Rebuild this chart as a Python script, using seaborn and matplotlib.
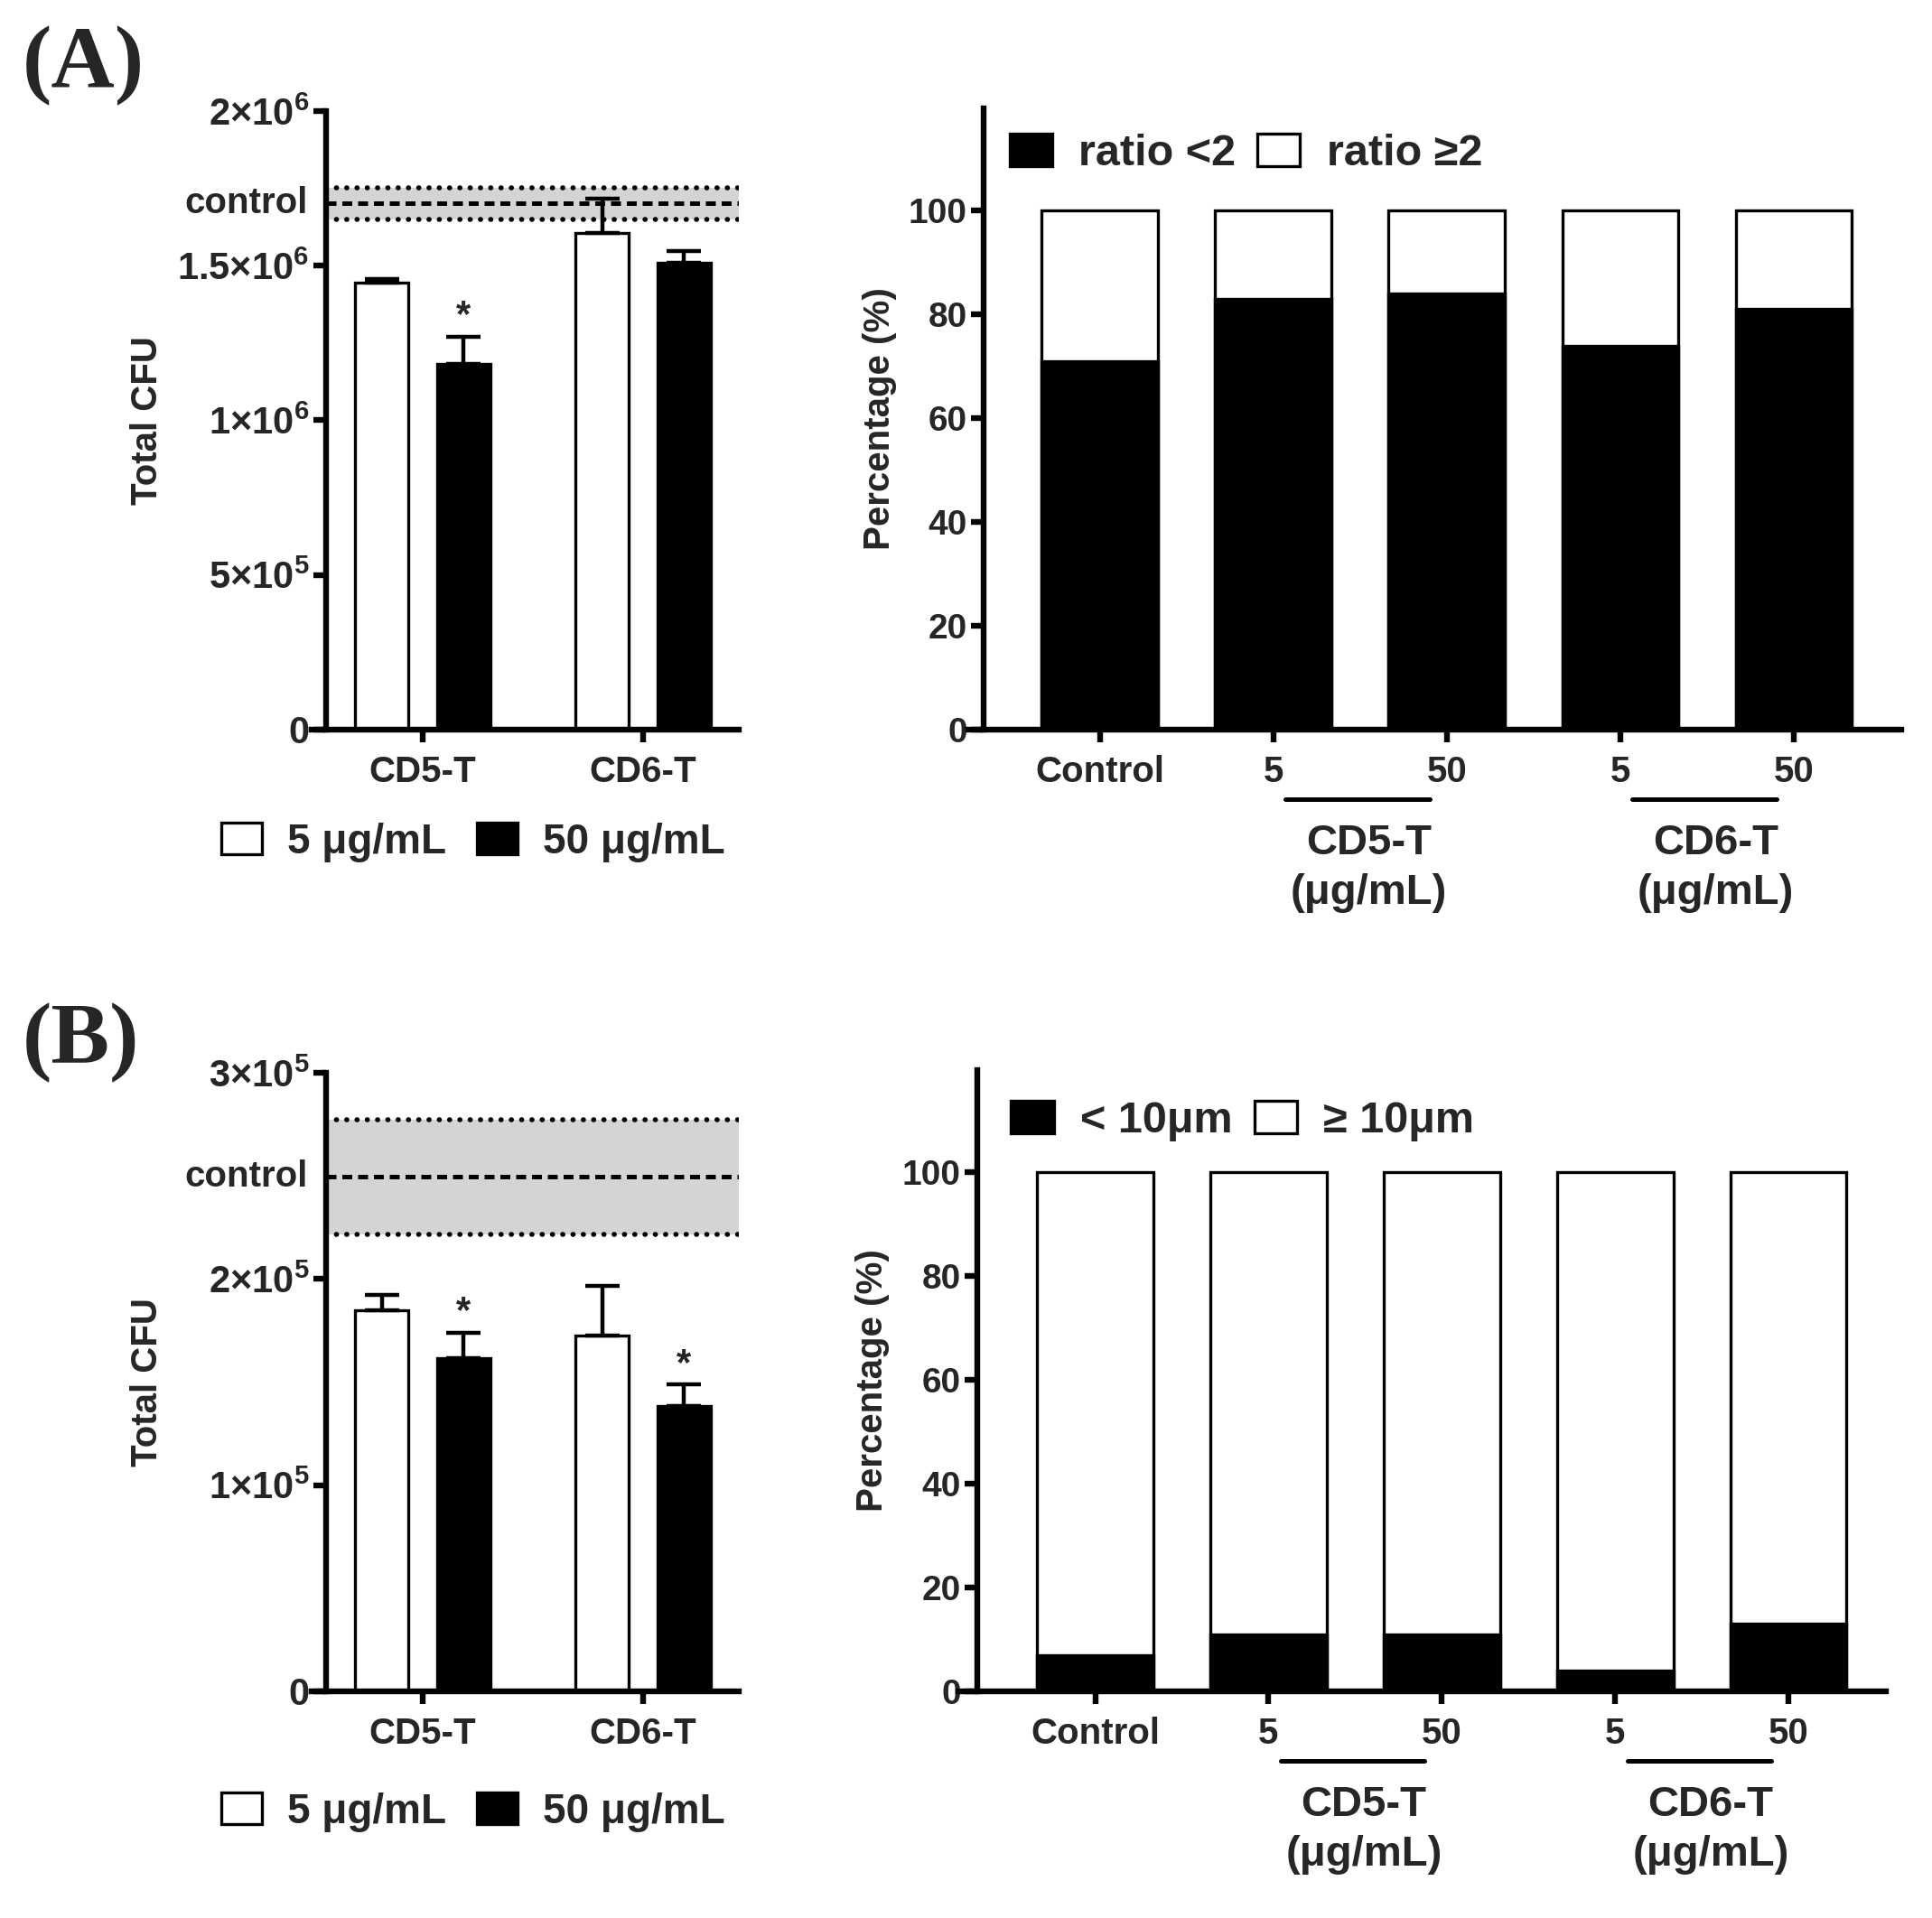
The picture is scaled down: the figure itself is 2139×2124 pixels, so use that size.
import matplotlib.pyplot as plt
import pandas as pd
import seaborn as sns
from matplotlib.patches import Patch

# ======== values ===========================================
groups = ["CD5-T", "CD6-T"]
doses = ["5 μg/mL", "50 μg/mL"]

# (A) total CFU: mean, upper error, significance
cfu_a_5 = [1.444e6, 1.607e6]
cfu_a_50 = [1.181e6, 1.508e6]
err_a_5 = [0.014e6, 0.111e6]
err_a_50 = [0.089e6, 0.038e6]
star_a_5 = [False, False]
star_a_50 = [True, False]
control_a = 1.701e6
control_a_sd = 0.052e6
yticks_a = [0, 5e5, 1e6, 1.5e6, 2e6]
yticklabels_a = ["0", r"$5{\times}10^{5}$", r"$1{\times}10^{6}$",
                 r"$1.5{\times}10^{6}$", r"$2{\times}10^{6}$"]

# (B) total CFU
cfu_b_5 = [1.848e5, 1.725e5]
cfu_b_50 = [1.618e5, 1.385e5]
err_b_5 = [0.074e5, 0.242e5]
err_b_50 = [0.119e5, 0.102e5]
star_b_5 = [False, False]
star_b_50 = [True, True]
control_b = 2.496e5
control_b_sd = 0.278e5
yticks_b = [0, 1e5, 2e5, 3e5]
yticklabels_b = ["0", r"$1{\times}10^{5}$", r"$2{\times}10^{5}$", r"$3{\times}10^{5}$"]

# right panels: stacked percentages
conditions = ["Control", "CD5-T 5", "CD5-T 50", "CD6-T 5", "CD6-T 50"]
condition_ticks = ["Control", "5", "50", "5", "50"]
total_pct = [100, 100, 100, 100, 100]
ratio_lt2 = [71, 83, 84, 74, 81]
size_lt10 = [7, 11, 11, 4, 13]

sns.set_style("ticks")
plt.rcParams["font.family"] = ["Liberation Sans", "DejaVu Sans"]
plt.rcParams["font.weight"] = "bold"
plt.rcParams["axes.labelweight"] = "bold"
plt.rcParams["mathtext.fontset"] = "custom"
plt.rcParams["mathtext.rm"] = "Liberation Sans:bold"
plt.rcParams["mathtext.it"] = "Liberation Sans:bold"
plt.rcParams["mathtext.bf"] = "Liberation Sans:bold"

LW = 2.3


def style_axes(ax, spine_x):
    # spine position first: moving the spine rebuilds the ticks
    sns.despine(ax=ax)
    ax.spines["left"].set_position(("data", spine_x))
    for s in ["left", "bottom"]:
        ax.spines[s].set_linewidth(LW)
        ax.spines[s].set_color("black")
    ax.tick_params(axis="both", direction="out", length=5, width=LW, color="black")
    ax.tick_params(axis="y", pad=1.5)
    ax.tick_params(axis="x", pad=5)
    ax.set_facecolor("none")


# ======== left: total CFU bars =============================
def cfu_panel(ax, v5, v50, e5, e50, s5, s50, ctrl, ctrl_sd, yticks, yticklabels, legend_y):
    spine_x, x0, x1 = -0.44, -0.504, 1.434
    df = pd.DataFrame({"group": groups * 2,
                       "dose": [doses[0]] * 2 + [doses[1]] * 2,
                       "cfu": v5 + v50})

    # control band
    ax.fill_between([spine_x, x1], ctrl - ctrl_sd, ctrl + ctrl_sd, color="#d4d4d4", lw=0, zorder=0.5)
    ax.hlines(ctrl, spine_x, x1, colors="black", linestyles=(0, (2.2, 1.3)), lw=1.8, zorder=1)
    dots = ax.hlines([ctrl - ctrl_sd, ctrl + ctrl_sd], spine_x, x1, colors="black",
                     linestyles=(0, (0.05, 2.0)), lw=2.0, zorder=1)
    dots.set_capstyle("round")
    ax.annotate("control", xy=(spine_x, ctrl), xytext=(-7, 0), textcoords="offset points",
                ha="right", va="center", fontsize=14.5, annotation_clip=False)

    sns.barplot(data=df, x="group", y="cfu", hue="dose", palette=["white", "black"],
                saturation=1, edgecolor="black", linewidth=1.2, width=0.744, gap=0.35,
                errorbar=None, legend=False, ax=ax, zorder=2)

    bar_sets = list(ax.containers)
    for bars, errs, stars in zip(bar_sets, [e5, e50], [s5, s50]):
        for bar, e, s in zip(bars, errs, stars):
            x = bar.get_x() + bar.get_width() / 2
            y = bar.get_height()
            ax.errorbar(x, y, yerr=[[0], [e]], fmt="none", ecolor="black",
                        elinewidth=1.6, capsize=7, capthick=1.6, zorder=3)
            if s:
                ax.annotate("*", (x, y + e), xytext=(0, 1), textcoords="offset points",
                            ha="center", va="bottom", fontsize=15)

    style_axes(ax, spine_x)
    ax.set_xlim(x0, x1)
    ax.set_ylim(yticks[0], yticks[-1])
    ax.set_yticks(yticks, yticklabels)
    ax.set_xticks(ax.get_xticks(), groups)
    ax.tick_params(axis="y", labelsize=15)
    ax.tick_params(axis="x", labelsize=14.5)
    ax.set_xlabel("")
    ax.set_ylabel("Total CFU", fontsize=14.5)
    ax.yaxis.set_label_coords(-0.345, 0.5)

    handles = [Patch(facecolor="white", edgecolor="black", lw=1.2, label=doses[0]),
               Patch(facecolor="black", edgecolor="black", lw=1.2, label=doses[1])]
    ax.legend(handles=handles, loc="upper left", bbox_to_anchor=(-0.211, legend_y), ncol=2,
              frameon=False, fontsize=16.5, handlelength=0.98, handleheight=0.8,
              handletextpad=0.6, columnspacing=0.75, borderpad=0, borderaxespad=0)


# ======== right: stacked percentage bars ===================
def pct_panel(ax, lower, legend_labels, x0, x1, spine_x, legend_xy, ylabel_x):
    sns.barplot(x=conditions, y=total_pct, color="white", saturation=1, edgecolor="black",
                linewidth=1.2, width=0.67, ax=ax)
    sns.barplot(x=conditions, y=lower, color="black", saturation=1, edgecolor="black",
                linewidth=1.2, width=0.67, ax=ax)

    style_axes(ax, spine_x)
    ax.set_xlim(x0, x1)
    ax.set_ylim(0, 119.7)
    ax.set_yticks([0, 20, 40, 60, 80, 100])
    ax.set_xticks(ax.get_xticks(), condition_ticks)
    ax.tick_params(axis="y", labelsize=14)
    ax.tick_params(axis="x", labelsize=14.5)
    ax.set_xlabel("")
    ax.set_ylabel("Percentage (%)", fontsize=14.5)
    ax.yaxis.set_label_coords(ylabel_x, 0.5)

    # group brackets under the dose ticks
    trans = ax.get_xaxis_transform()
    for name in groups:
        i0 = conditions.index(name + " 5")
        i1 = conditions.index(name + " 50")
        ax.plot([i0 + 0.07, i1 - 0.1], [-0.112, -0.112], color="black", lw=1.8,
                transform=trans, clip_on=False)
        xc = (i0 + i1) / 2 + 0.05
        ax.text(xc, -0.183, name, transform=trans, ha="center", va="center", fontsize=17)
        ax.text(xc, -0.263, "(μg/mL)", transform=trans, ha="center", va="center", fontsize=17)

    handles = [Patch(facecolor="black", edgecolor="black", lw=1.2, label=legend_labels[0]),
               Patch(facecolor="white", edgecolor="black", lw=1.2, label=legend_labels[1])]
    ax.legend(handles=handles, loc="upper left", bbox_to_anchor=legend_xy, ncol=2,
              frameon=False, fontsize=17.5, handlelength=0.97, handleheight=0.76,
              handletextpad=0.6, columnspacing=0.5, borderpad=0, borderaxespad=0)


fig = plt.figure(figsize=(2139 / 200, 2124 / 200), dpi=200)

ax_la = fig.add_axes([0.1613, 0.6196, 0.2211, 0.3225])
ax_ra = fig.add_axes([0.5012, 0.6196, 0.4829, 0.3239])
ax_lb = fig.add_axes([0.1613, 0.1182, 0.2211, 0.3225])
ax_rb = fig.add_axes([0.4960, 0.1182, 0.4800, 0.3239])

cfu_panel(ax_la, cfu_a_5, cfu_a_50, err_a_5, err_a_50, star_a_5, star_a_50,
          control_a, control_a_sd, yticks_a, yticklabels_a, -0.15)
cfu_panel(ax_lb, cfu_b_5, cfu_b_50, err_b_5, err_b_50, star_b_5, star_b_50,
          control_b, control_b_sd, yticks_b, yticklabels_b, -0.163)

pct_panel(ax_ra, ratio_lt2, ["ratio <2", "ratio ≥2"], -0.758, 4.62, -0.67, (0.044, 0.959), -0.077)
pct_panel(ax_rb, size_lt10, ["< 10μm", "≥ 10μm"], -0.79, 4.56, -0.68, (0.057, 0.95), -0.074)

for label, y in [("(A)", 1 - 28 / 2124), ("(B)", 1 - 1110 / 2124)]:
    fig.text(25 / 2139, y, label, ha="left", va="top", fontsize=35, fontweight="bold",
             family=["Liberation Serif", "DejaVu Serif"])

fig.savefig("out.png", dpi=200)
plt.close(fig)
